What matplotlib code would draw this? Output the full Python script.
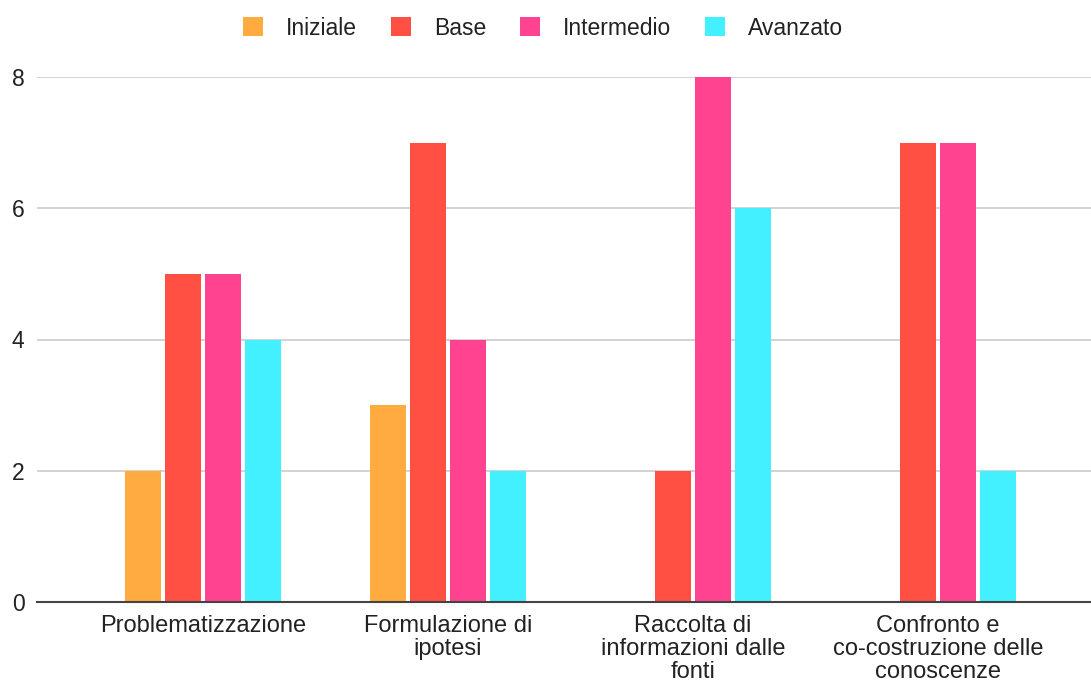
import matplotlib
matplotlib.use("Agg")
import matplotlib.pyplot as plt
import numpy as np

plt.rcParams["font.family"] = ["Liberation Sans", "DejaVu Sans"]

categories = [
    "Problematizzazione",
    "Formulazione di\nipotesi",
    "Raccolta di\ninformazioni dalle\nfonti",
    "Confronto e\nco-costruzione delle\nconoscenze",
]
series_names = ["Iniziale", "Base", "Intermedio", "Avanzato"]
iniziale = [2, 3, 0, 0]
base = [5, 7, 2, 7]
intermedio = [5, 4, 8, 7]
avanzato = [4, 2, 6, 2]
colors = ["#FFAB40", "#FF5043", "#FF4391", "#42F0FF"]

series = [iniziale, base, intermedio, avanzato]

fig = plt.figure(figsize=(10.91, 6.84), dpi=100)
ax = fig.add_axes([37 / 1091, 1 - 602 / 684, 1 - 37 / 1091, (602 - 77) / 684])

x = np.arange(len(categories))
pitch = 40 / 245
width = 36 / 245
for i, (name, vals, c) in enumerate(zip(series_names, series, colors)):
    ax.bar(x + (i - 1.5) * pitch, vals, width=width, color=c, label=name,
           zorder=3)

ax.set_xlim((37 - 203) / 245, (1091 - 203) / 245)
ax.set_ylim(0, 8)
ax.set_yticks([0, 2, 4, 6, 8])
ax.set_xticks(x)
ax.set_xticklabels(categories, linespacing=1.08)
ax.tick_params(axis="x", length=0, pad=9, labelsize=17, labelcolor="#222222")
ax.tick_params(axis="y", length=0, pad=9, labelsize=16.5, labelcolor="#222222")
ax.grid(axis="y", color="#cccccc", linewidth=1.2, zorder=0)
ax.set_axisbelow(True)
for s in ["top", "right", "left"]:
    ax.spines[s].set_visible(False)
ax.spines["bottom"].set_color("#444444")
ax.spines["bottom"].set_linewidth(1.5)
ax.spines["bottom"].set_zorder(4)

fig.legend(loc="upper center", bbox_to_anchor=(543 / 1091, 1.006), ncol=4,
           frameon=False, fontsize=16.5, handlelength=0.9, handleheight=0.9,
           handletextpad=1.0, columnspacing=1.45, labelcolor="#222222")

fig.savefig("out.png", dpi=100)
